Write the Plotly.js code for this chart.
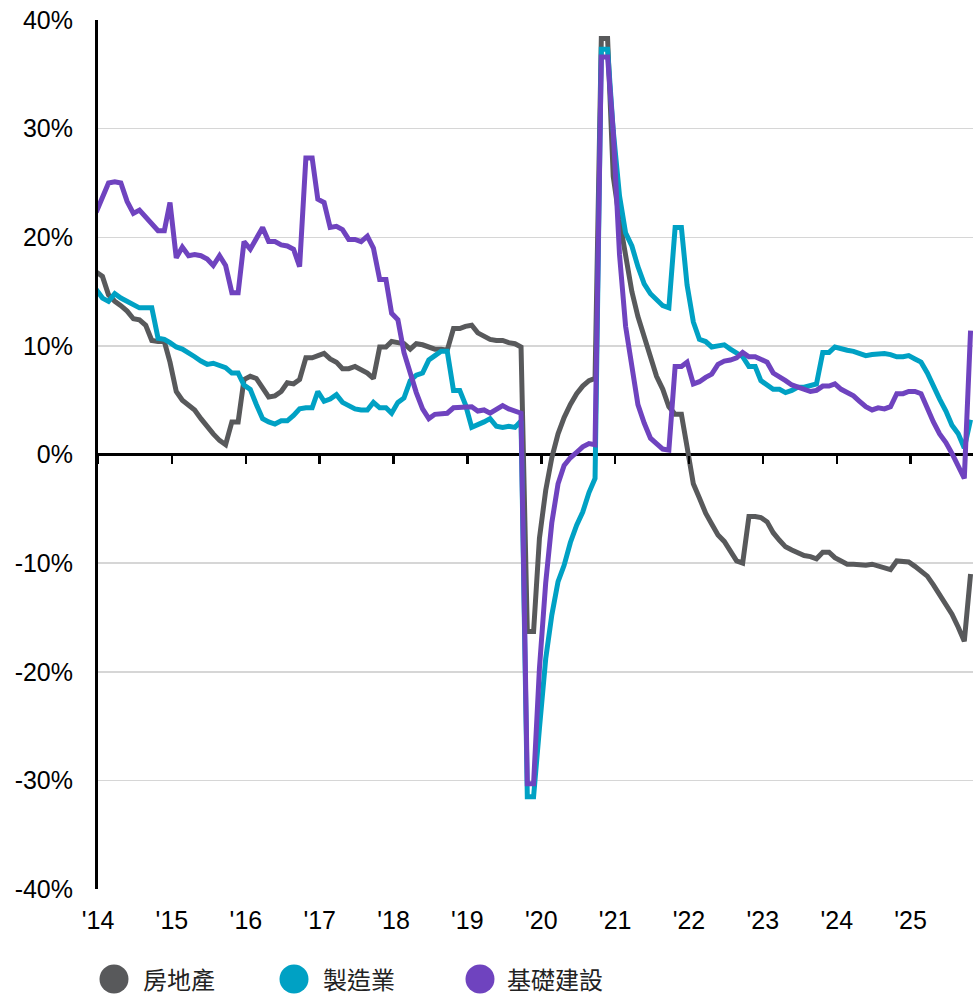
<!DOCTYPE html>
<html>
<head>
<meta charset="utf-8">
<script src="https://cdn.plot.ly/plotly-3.0.1.min.js"></script>
<style>
  html, body { margin: 0; padding: 0; background: #ffffff; }
  #chart { width: 973px; height: 995px; }
</style>
</head>
<body>
<div id="chart"></div>
<script>
// Monthly YTD growth (%), first value = March 2014; January repeats the Jan-Feb figure.
const startYear = 2014;
const startMonth = 3;

const seriesNames = ["房地產", "製造業", "基礎建設"];
const seriesColors = ["#58595b", "#00a1c4", "#6f43bf"];

const realEstate = [
  16.8, 16.4, 14.7, 14.1, 13.7, 13.2, 12.5, 12.4, 11.9, 10.5,
  10.4, 10.4, 8.5, 5.8, 5.0, 4.5, 4.1, 3.3, 2.5, 1.9, 1.3, 0.9,
  3.0, 3.0, 6.9, 7.2, 7.0, 6.1, 5.3, 5.4, 5.8, 6.6, 6.5, 6.9,
  8.9, 8.9, 9.1, 9.3, 8.8, 8.5, 7.9, 7.9, 8.1, 7.8, 7.5, 7.0,
  9.9, 9.9, 10.4, 10.3, 10.2, 9.7, 10.2, 10.1, 9.9, 9.7, 9.7, 9.6,
  11.6, 11.6, 11.8, 11.9, 11.2, 10.9, 10.6, 10.5, 10.5, 10.3, 10.2, 9.9,
  -16.3, -16.3, -7.7, -3.3, -0.3, 1.9, 3.4, 4.6, 5.6, 6.3, 6.8, 7.0,
  38.3, 38.3, 25.6, 21.6, 18.3, 15.0, 12.7, 10.9, 8.8, 7.2, 6.0, 4.4,
  3.7, 3.7, 0.7, -2.7, -4.0, -5.4, -6.4, -7.4, -8.0, -8.8, -9.8, -10.0,
  -5.7, -5.7, -5.8, -6.2, -7.2, -7.9, -8.5, -8.8, -9.1, -9.3, -9.4, -9.6,
  -9.0, -9.0, -9.5, -9.8, -10.1, -10.1, -10.2, -10.2, -10.1, -10.3, -10.4, -10.6,
  -9.8, -9.8, -9.9, -10.3, -10.7, -11.2, -12.0, -12.9, -13.9, -14.7, -15.9, -17.2,
  -11.0
];

const manufacturing = [
  15.2, 14.4, 14.1, 14.8, 14.4, 14.1, 13.8, 13.5, 13.5, 13.5,
  10.7, 10.6, 10.3, 9.9, 9.7, 9.4, 9.0, 8.6, 8.3, 8.4, 8.2, 8.0,
  7.5, 7.5, 6.4, 6.0, 4.6, 3.3, 3.0, 2.8, 3.1, 3.1, 3.6, 4.2,
  4.3, 4.3, 5.8, 4.9, 5.1, 5.5, 4.8, 4.5, 4.2, 4.1, 4.1, 4.8,
  4.3, 4.3, 3.8, 4.8, 5.2, 6.8, 7.3, 7.5, 8.7, 9.1, 9.5, 9.5,
  5.9, 5.9, 4.6, 2.5, 2.7, 3.0, 3.3, 2.6, 2.5, 2.6, 2.5, 3.1,
  -31.5, -31.5, -25.2, -18.8, -14.8, -11.7, -10.2, -8.1, -6.5, -5.3, -3.5, -2.2,
  37.3, 37.3, 29.8, 23.8, 20.4, 19.2, 17.3, 15.7, 14.8, 14.2, 13.7, 13.5,
  20.9, 20.9, 15.6, 12.2, 10.6, 10.4, 9.9, 10.0, 10.1, 9.7, 9.3, 9.0,
  8.1, 8.1, 6.8, 6.4, 6.0, 6.0, 5.7, 5.9, 6.2, 6.2, 6.3, 6.5,
  9.4, 9.4, 9.9, 9.7, 9.6, 9.5, 9.3, 9.1, 9.2, 9.3, 9.3, 9.2,
  9.0, 9.0, 9.1, 8.8, 8.5, 7.5, 6.2, 5.1, 4.0, 2.7, 1.9, 0.6,
  3.2
];

const infrastructure = [
  22.3, 23.6, 25.0, 25.1, 25.0, 23.3, 22.2, 22.5, 21.8, 21.2,
  20.6, 20.6, 23.2, 18.1, 19.1, 18.3, 18.4, 18.3, 18.0, 17.4, 18.3, 17.4,
  14.9, 14.9, 19.6, 18.9, 19.8, 20.9, 19.6, 19.6, 19.3, 19.2, 18.9, 17.3,
  27.3, 27.3, 23.5, 23.2, 20.9, 21.0, 20.7, 19.8, 19.8, 19.6, 20.1, 19.0,
  16.1, 16.1, 13.0, 12.4, 9.4, 7.3, 5.7, 4.2, 3.3, 3.7, 3.7, 3.8,
  4.3, 4.3, 4.4, 4.4, 4.0, 4.1, 3.8, 4.2, 4.5, 4.2, 4.0, 3.8,
  -30.3, -30.3, -19.7, -11.8, -6.3, -2.7, -1.0, -0.3, 0.2, 0.7, 1.0, 0.9,
  36.6, 36.6, 29.7, 18.4, 11.8, 7.8, 4.6, 2.9, 1.5, 1.0, 0.5, 0.4,
  8.1, 8.1, 8.5, 6.5, 6.7, 7.1, 7.4, 8.3, 8.6, 8.7, 8.9, 9.4,
  9.0, 9.0, 8.8, 8.5, 7.5, 7.2, 6.8, 6.4, 6.2, 5.9, 5.8, 5.9,
  6.3, 6.3, 6.5, 6.0, 5.7, 5.4, 4.9, 4.4, 4.1, 4.3, 4.2, 4.4,
  5.6, 5.6, 5.8, 5.8, 5.6, 4.2, 3.0, 1.9, 1.1, 0.1, -1.1, -2.2,
  11.4
];

const tickYears = [2014, 2015, 2016, 2017, 2018, 2019, 2020, 2021, 2022, 2023, 2024, 2025];
const tickLabels = ["'14", "'15", "'16", "'17", "'18", "'19", "'20", "'21", "'22", "'23", "'24", "'25"];
const yTickValues = [40, 30, 20, 10, 0, -10, -20, -30, -40];

// ---- build ----
function monthDate(i) {
  const m = startMonth - 1 + i;
  const y = startYear + Math.floor(m / 12);
  const mm = (m % 12) + 1;
  return y + "-" + String(mm).padStart(2, "0") + "-01";
}
const dates = realEstate.map((_, i) => monthDate(i));
const seriesValues = [realEstate, manufacturing, infrastructure];

const traces = seriesValues.map((vals, k) => ({
  type: "scatter",
  mode: "lines",
  x: dates,
  y: vals,
  name: seriesNames[k],
  line: { color: seriesColors[k], width: 5, shape: "linear" },
  showlegend: false,
  hoverinfo: "skip"
}));
// carrier for the tick-only axis sitting on the zero line
traces.push({ type: "scatter", mode: "lines", x: [], y: [], xaxis: "x2", yaxis: "y", showlegend: false, hoverinfo: "skip" });

const W = 973, H = 995;
const margin = { l: 98, r: 0, t: 20, b: 106 };
const plotW = W - margin.l - margin.r;
const plotH = H - margin.t - margin.b;
const px = (x) => (x - margin.l) / plotW;
const py = (y) => (H - margin.b - y) / plotH;

const xRange = ["2014-03-10", "2026-01-13"];
const tickVals = tickYears.map(y => y + "-03-10 12:00");

const latinFont = "'Liberation Sans', Arial, sans-serif";
const cjkFont = "'Noto Sans CJK TC', 'Noto Sans CJK SC', sans-serif";

// legend drawn as large round swatches + text
const legendY = 978;
const legendCircleX = [114, 294, 480];
const legendTextX = [142, 322, 506];
const shapes = seriesNames.map((n, k) => ({
  type: "circle",
  xref: "paper", yref: "paper",
  xsizemode: "pixel", ysizemode: "pixel",
  xanchor: px(legendCircleX[k]), yanchor: py(legendY + 1),
  x0: -14.5, x1: 14.5, y0: -14.5, y1: 14.5,
  fillcolor: seriesColors[k],
  line: { width: 0 }
}));
const annotations = seriesNames.map((n, k) => ({
  xref: "paper", yref: "paper",
  x: px(legendTextX[k]), y: py(legendY),
  xanchor: "left", yanchor: "middle",
  text: n, showarrow: false,
  borderpad: 0,
  font: { family: cjkFont, size: 24, color: "#222222" }
}));

const layout = {
  width: W, height: H,
  margin: margin,
  paper_bgcolor: "#ffffff",
  plot_bgcolor: "#ffffff",
  showlegend: false,
  font: { family: latinFont, size: 25, color: "#000000" },
  xaxis: {
    type: "date",
    range: xRange,
    tickmode: "array",
    tickvals: tickVals,
    ticktext: tickLabels,
    showgrid: false,
    zeroline: false,
    showline: false,
    ticks: "",
    ticklabelstandoff: 14,
    tickfont: { family: latinFont, size: 25, color: "#000000" }
  },
  xaxis2: {
    type: "date",
    overlaying: "x",
    anchor: "free",
    position: 0.5,
    range: xRange,
    tickmode: "array",
    tickvals: tickVals,
    ticktext: tickLabels,
    showticklabels: false,
    showgrid: false,
    zeroline: false,
    showline: false,
    ticks: "outside",
    ticklen: 8,
    tickwidth: 2.5,
    tickcolor: "#000000"
  },
  yaxis: {
    range: [-40, 40],
    tickmode: "array",
    tickvals: yTickValues,
    ticktext: yTickValues.map(v => v + "%"),
    showgrid: true,
    gridcolor: "#d6d6d6",
    gridwidth: 1.5,
    zeroline: true,
    zerolinecolor: "#000000",
    zerolinewidth: 2.5,
    showline: true,
    linecolor: "#000000",
    linewidth: 3,
    ticks: "",
    ticklabelstandoff: 17,
    tickfont: { family: latinFont, size: 25, color: "#000000" }
  },
  shapes: shapes,
  annotations: annotations
};

Plotly.newPlot("chart", traces, layout, { staticPlot: true, displayModeBar: false });
</script>
</body>
</html>
